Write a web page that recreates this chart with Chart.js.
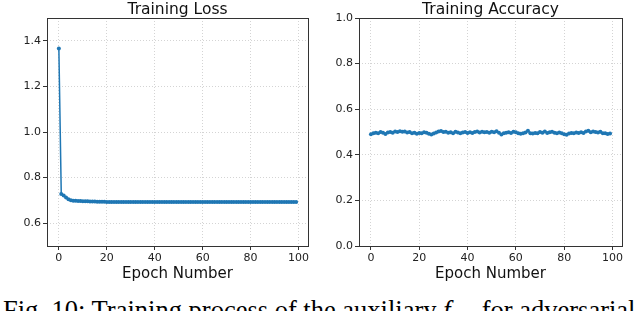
<!DOCTYPE html>
<html>
<head>
<meta charset="utf-8">
<script src="https://cdn.jsdelivr.net/npm/chart.js@4/dist/chart.umd.min.js"></script>
<style>
  body { margin: 0; background: #fff; width: 640px; height: 311px; overflow: hidden; position: relative; }
  .box { position: absolute; top: 0; width: 320px; height: 292px; }
  #caption { position: absolute; left: 3px; top: 297px; font: 26.5px "Liberation Serif", "Times New Roman", serif; line-height: 26px; white-space: nowrap; color: #000; }
</style>
</head>
<body>
<div class="box" style="left:0"><canvas id="graficoLoss"></canvas></div>
<div class="box" style="left:320px"><canvas id="graficoAcc"></canvas></div>
<div id="caption">Fig. 10: Training process of the auxiliary <i>f</i><sub style="font-size:17px">aux</sub> for adversarial</div>
<script>
const epochs = [0,1,2,3,4,5,6,7,8,9,10,11,12,13,14,15,16,17,18,19,20,21,22,23,24,25,26,27,28,29,
  30,31,32,33,34,35,36,37,38,39,40,41,42,43,44,45,46,47,48,49,50,51,52,53,54,55,56,57,58,59,
  60,61,62,63,64,65,66,67,68,69,70,71,72,73,74,75,76,77,78,79,80,81,82,83,84,85,86,87,88,89,
  90,91,92,93,94,95,96,97,98,99];

const lossValues = [1.366,0.728,0.722,0.713,0.705,0.701,0.699,0.698,0.697,0.697,
  0.696,0.696,0.696,0.695,0.695,0.695,0.694,0.694,0.694,0.694,
  0.6935,0.6935,0.6933,0.6933,0.6932,0.6932,0.6932,0.6932,0.6931,0.6932,
  0.6932,0.6931,0.6931,0.6932,0.6931,0.6931,0.6931,0.6932,0.6931,0.6931,
  0.6931,0.6931,0.6931,0.6932,0.6931,0.6931,0.6931,0.6931,0.6931,0.6931,
  0.6931,0.6932,0.6931,0.6931,0.6931,0.6931,0.6931,0.6931,0.6931,0.6931,
  0.6931,0.6931,0.6931,0.6931,0.6932,0.6931,0.6931,0.6931,0.6931,0.6931,
  0.6931,0.6931,0.6931,0.6931,0.6931,0.6931,0.6931,0.6931,0.6931,0.6931,
  0.6931,0.6931,0.6931,0.6931,0.6931,0.6931,0.6931,0.6931,0.6931,0.6931,
  0.6931,0.6931,0.6931,0.6931,0.6931,0.6931,0.6931,0.6931,0.6931,0.6931];

const accValues = [0.490,0.494,0.497,0.495,0.500,0.497,0.491,0.498,0.500,0.497,
  0.502,0.500,0.503,0.501,0.502,0.498,0.500,0.494,0.497,0.492,
  0.496,0.494,0.499,0.497,0.492,0.489,0.493,0.498,0.502,0.504,
  0.500,0.501,0.497,0.499,0.495,0.501,0.498,0.494,0.498,0.500,
  0.496,0.499,0.496,0.500,0.502,0.498,0.501,0.499,0.500,0.497,
  0.501,0.499,0.503,0.497,0.489,0.494,0.497,0.499,0.496,0.501,
  0.499,0.494,0.492,0.495,0.498,0.505,0.495,0.493,0.496,0.494,
  0.500,0.497,0.502,0.496,0.499,0.501,0.497,0.495,0.498,0.494,
  0.490,0.488,0.493,0.496,0.494,0.498,0.496,0.499,0.496,0.502,
  0.506,0.499,0.502,0.500,0.498,0.501,0.495,0.494,0.491,0.493];

const xTicks = [0, 20, 40, 60, 80, 100];
const lossTicks = [0.6, 0.8, 1.0, 1.2, 1.4];
const accTicks = [0.0, 0.2, 0.4, 0.6, 0.8, 1.0];

const azul = "#1f77b4";
const fonte = "'DejaVu Sans', sans-serif";

// moldura (spines) em volta da area do grafico
const moldura = {
  id: "moldura",
  afterDraw(chart) {
    const a = chart.chartArea, ctx = chart.ctx;
    ctx.save();
    ctx.strokeStyle = "#333";
    ctx.lineWidth = 1;
    ctx.strokeRect(Math.round(a.left) + 0.5, Math.round(a.top) + 0.5,
      Math.round(a.right - a.left), Math.round(a.bottom - a.top));
    ctx.restore();
  }
};

function eixoX() {
  return {
    type: "linear", min: -4.95, max: 103.95,
    afterBuildTicks: s => { s.ticks = xTicks.map(v => ({ value: v })); },
    afterFit: s => { s.height = 46; },
    grid: { color: "#d4d4d4", tickColor: "#333", tickLength: 4, tickBorderDash: [0], lineWidth: 1 },
    border: { display: false, dash: [1, 2] },
    ticks: { font: { family: fonte, size: 11 }, color: "#222", padding: 2, maxRotation: 0 },
    title: { display: true, text: "Epoch Number", font: { family: fonte, size: 15 }, color: "#111", padding: { top: 0, bottom: 9 } }
  };
}

function eixoY(min, max, ticks, largura) {
  return {
    min: min, max: max,
    afterBuildTicks: s => { s.ticks = ticks.map(v => ({ value: v })); },
    afterFit: s => { s.width = largura; },
    grid: { color: "#d4d4d4", tickColor: "#333", tickLength: 4, tickBorderDash: [0], lineWidth: 1 },
    border: { display: false, dash: [1, 2] },
    ticks: { font: { family: fonte, size: 11 }, color: "#222", padding: 2, callback: v => v.toFixed(1) }
  };
}

function opcoes(titulo, yEixo, padRight) {
  return {
    responsive: true, maintainAspectRatio: false, animation: false,
    layout: { padding: { left: 0, right: padRight, top: 0, bottom: 0 } },
    plugins: {
      legend: { display: false },
      tooltip: { enabled: false },
      title: { display: true, text: titulo, fullSize: false, color: "#111",
        font: { family: fonte, size: 15.5, weight: "normal", lineHeight: 1 }, padding: { top: 2.5, bottom: 0 } }
    },
    scales: { x: eixoX(), y: yEixo }
  };
}

function serie(valores) {
  return [{
    data: epochs.map((e, i) => ({ x: e, y: valores[i] })),
    borderColor: azul, backgroundColor: azul,
    borderWidth: 1.5, pointRadius: 2, pointBorderWidth: 0, pointBackgroundColor: azul, tension: 0
  }];
}

// Training Loss
new Chart(document.getElementById("graficoLoss"), {
  type: "line",
  data: { datasets: serie(lossValues) },
  options: opcoes("Training Loss", eixoY(0.5, 1.5, lossTicks, 47), 12),
  plugins: [moldura]
});

// Training Accuracy
new Chart(document.getElementById("graficoAcc"), {
  type: "line",
  data: { datasets: serie(accValues) },
  options: opcoes("Training Accuracy", eixoY(0, 1, accTicks, 39), 18),
  plugins: [moldura]
});
</script>
</body>
</html>
